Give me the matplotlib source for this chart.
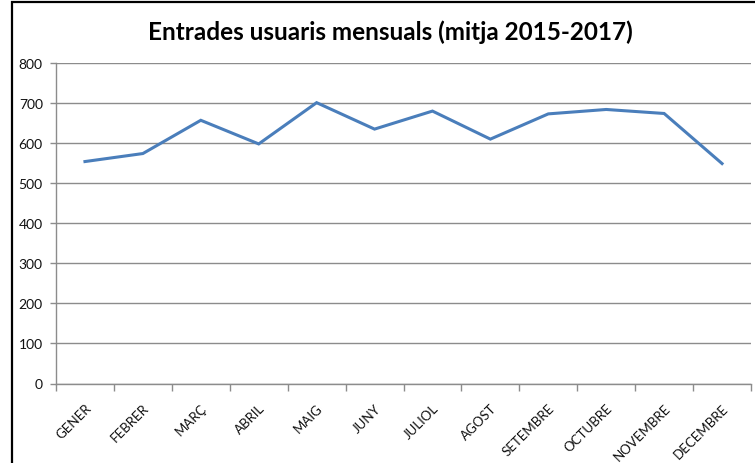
import numpy as np
import matplotlib
matplotlib.use("Agg")
import matplotlib.pyplot as plt
from matplotlib.patches import Rectangle

plt.rcParams['font.family'] = ['Lato', 'DejaVu Sans']

mesos = ["GENER", "FEBRER", "MARÇ", "ABRIL", "MAIG", "JUNY",
         "JULIOL", "AGOST", "SETEMBRE", "OCTUBRE", "NOVEMBRE", "DECEMBRE"]
entrades = [554, 574, 657, 598, 701, 635, 680, 610, 673, 684, 674, 549]
yticks = [0, 100, 200, 300, 400, 500, 600, 700, 800]

W, H = 755, 464
fig = plt.figure(figsize=(W / 100, H / 100), dpi=100)
ax = fig.add_axes([56 / W, 1 - 384.5 / H, (751 - 56) / W, (384.5 - 64) / H])

# chart border (only left and top visible in the crop)
fig.patches.append(Rectangle((11.5 / W, -0.1), 2, 1 - 2.5 / H + 0.1,
                             transform=fig.transFigure, fill=False,
                             edgecolor="black", linewidth=1.6))

x = np.arange(len(mesos))
ax.plot(x, entrades, color="#4A7EBB", linewidth=2.2, solid_joinstyle="miter")

ax.set_xlim(-0.5, len(mesos) - 0.5)
ax.set_ylim(0, 800)
ax.set_yticks(yticks)
ax.set_yticklabels([str(v) for v in yticks], fontsize=10, color="#111111")
ax.yaxis.grid(True, color="#8c8c8c", linewidth=1.0)
ax.set_axisbelow(True)

ax.set_xticks(x)
ax.set_xticklabels(mesos, rotation=45, ha="right", rotation_mode="anchor",
                   fontsize=9.5, color="#111111")
ax.tick_params(axis="x", which="major", length=0, pad=13)
ax.set_xticks(np.arange(-0.5, len(mesos)), minor=True)
ax.tick_params(axis="x", which="minor", length=5, color="#8c8c8c", width=1)
ax.tick_params(axis="y", length=4.5, color="#8c8c8c", width=1, pad=5)

for s in ["top", "right"]:
    ax.spines[s].set_visible(False)
for s in ["left", "bottom"]:
    ax.spines[s].set_color("#8c8c8c")
    ax.spines[s].set_linewidth(1.0)

fig.text(390 / W, 1 - 32 / H, "Entrades usuaris mensuals (mitja 2015-2017)",
         ha="center", va="center", fontsize=17.5, fontweight="bold")

fig.savefig("out.png", dpi=100)
